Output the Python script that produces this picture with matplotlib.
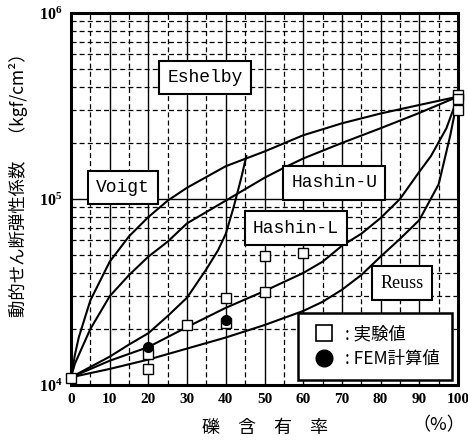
import matplotlib
matplotlib.use('Agg')
import matplotlib.pyplot as plt
from matplotlib.ticker import MultipleLocator, FixedLocator, NullFormatter
from matplotlib.lines import Line2D

plt.rcParams['font.family'] = ['Liberation Serif', 'Noto Sans CJK JP', 'DejaVu Sans']
plt.rcParams['mathtext.default'] = 'regular'

# curves (x = gravel content %, y = kgf/cm2)
voigt_x = [0, 1, 2, 5, 10, 15, 20, 25, 30, 40, 50, 60, 70, 80, 90, 100]
voigt_y = [1.1e4, 1.45e4, 1.8e4, 2.85e4, 4.6e4, 6.3e4, 8.0e4, 9.8e4, 1.15e5,
           1.5e5, 1.8e5, 2.2e5, 2.55e5, 2.88e5, 3.2e5, 3.55e5]

hashu_x = [0, 1, 2, 5, 10, 15, 20, 25, 30, 40, 50, 55, 60, 70, 80, 90, 100]
hashu_y = [1.1e4, 1.3e4, 1.45e4, 2.0e4, 3.0e4, 3.9e4, 4.9e4, 5.9e4, 7.4e4,
           9.8e4, 1.3e5, 1.47e5, 1.65e5, 2.0e5, 2.4e5, 2.9e5, 3.55e5]

eshel_x = [0, 5, 10, 15, 20, 25, 30, 35, 38, 40, 42, 44, 45.3]
eshel_y = [1.1e4, 1.25e4, 1.42e4, 1.65e4, 1.9e4, 2.35e4, 2.95e4, 4.2e4,
           5.3e4, 6.5e4, 9.0e4, 1.3e5, 1.7e5]

hashl_x = [0, 10, 20, 30, 40, 50, 60, 65, 70, 75, 80, 85, 90, 93, 97, 100]
hashl_y = [1.1e4, 1.35e4, 1.6e4, 2.05e4, 2.6e4, 3.2e4, 4.0e4, 4.6e4, 5.6e4,
           6.5e4, 7.9e4, 1.0e5, 1.4e5, 1.7e5, 2.4e5, 3.55e5]

reuss_x = [0, 10, 20, 30, 40, 50, 60, 65, 70, 75, 80, 85, 90, 95, 98, 100]
reuss_y = [1.1e4, 1.22e4, 1.37e4, 1.57e4, 1.8e4, 2.1e4, 2.5e4, 2.8e4, 3.25e4,
           3.9e4, 4.9e4, 6.1e4, 7.7e4, 1.2e5, 2.2e5, 3.55e5]

# measured values (squares) and FEM values (dots)
exp_x = [0, 20, 20, 30, 40, 40, 50, 50, 60, 100, 100, 100]
exp_y = [1.09e4, 1.47e4, 1.22e4, 2.1e4, 2.94e4, 2.15e4, 3.16e4, 4.94e4,
         5.1e4, 3.6e5, 3.45e5, 3.0e5]
fem_x = [20, 40]
fem_y = [1.6e4, 2.24e4]

labels = ['Eshelby', 'Voigt', 'Hashin-U', 'Hashin-L', 'Reuss']
label_x = [34.6, 13.4, 68.0, 58.1, 85.5]
label_y = [4.48e5, 1.15e5, 1.22e5, 6.98e4, 3.53e4]

y_major = [1e4, 1e5, 1e6]
y_minor = [m * 10 ** e for e in (4, 5) for m in range(2, 10)]

fig = plt.figure(figsize=(4.68, 4.44), dpi=100)
ax = fig.add_axes([0.1517, 0.1329, 0.827, 0.838])
ax.set_yscale('log')
ax.set_xlim(0, 100)
ax.set_ylim(1e4, 1e6)

ax.xaxis.set_major_locator(MultipleLocator(10))
ax.xaxis.set_minor_locator(MultipleLocator(5))
ax.yaxis.set_major_locator(FixedLocator(y_major))
ax.yaxis.set_minor_locator(FixedLocator(y_minor))
ax.yaxis.set_minor_formatter(NullFormatter())
ax.grid(which='major', color='black', lw=1.0, ls='-')
ax.grid(which='minor', color='black', lw=0.9, ls=(0, (4, 2.5)))
ax.set_axisbelow(True)
ax.tick_params(which='both', length=0, pad=6, labelsize=11)
ax.tick_params(axis='y', labelsize=11.5)
for lab in ax.get_xticklabels() + ax.get_yticklabels():
    lab.set_fontweight('bold')
for s in ax.spines.values():
    s.set_linewidth(2.2)

for cx, cy in [(voigt_x, voigt_y), (hashu_x, hashu_y), (eshel_x, eshel_y),
               (hashl_x, hashl_y), (reuss_x, reuss_y)]:
    ax.plot(cx, cy, color='black', lw=1.5, zorder=3)

ax.plot(exp_x, exp_y, ls='none', marker='s', ms=6.5, mfc='white', mec='black',
        mew=1.0, zorder=5, clip_on=False)
ax.plot(fem_x, fem_y, ls='none', marker='o', ms=7, color='black', zorder=6)

for t, lx, ly in zip(labels, label_x, label_y):
    fam = 'Liberation Serif' if t == 'Reuss' else 'Liberation Mono'
    ax.text(lx, ly, t, family=fam, fontsize=13, ha='center', va='center', zorder=7,
            bbox=dict(boxstyle='square,pad=0.45', fc='white', ec='black', lw=1.5))

handles = [Line2D([], [], ls='none', marker='s', ms=11, mfc='white', mec='black', mew=1.2),
           Line2D([], [], ls='none', marker='o', ms=12, color='black')]
leg = ax.legend(handles, [': 実験値', ': FEM計算値'], loc='lower right',
                bbox_to_anchor=(0.984, 0.013), borderaxespad=0, fancybox=False,
                framealpha=1, edgecolor='black', prop={'family': ['Noto Sans CJK JP'], 'size': 12.5},
                handletextpad=0.4, borderpad=0.7, labelspacing=0.4, handlelength=1.6)
leg.get_frame().set_linewidth(1.8)
leg.set_zorder(8)

ax.set_xlabel('礫　含　有　率', family=['Noto Sans CJK JP'], fontsize=13, labelpad=9)
fig.text(0.995, 0.043, '（%）', family=['Noto Sans CJK JP'], fontsize=13,
         ha='right', va='center')
ax.set_ylabel('動的せん断弾性係数　（kgf/cm²）', family=['Noto Sans CJK JP', 'DejaVu Sans'],
              fontsize=12.5)
ax.yaxis.set_label_coords(-0.11, 0.55)

fig.savefig('out.png', dpi=100)
